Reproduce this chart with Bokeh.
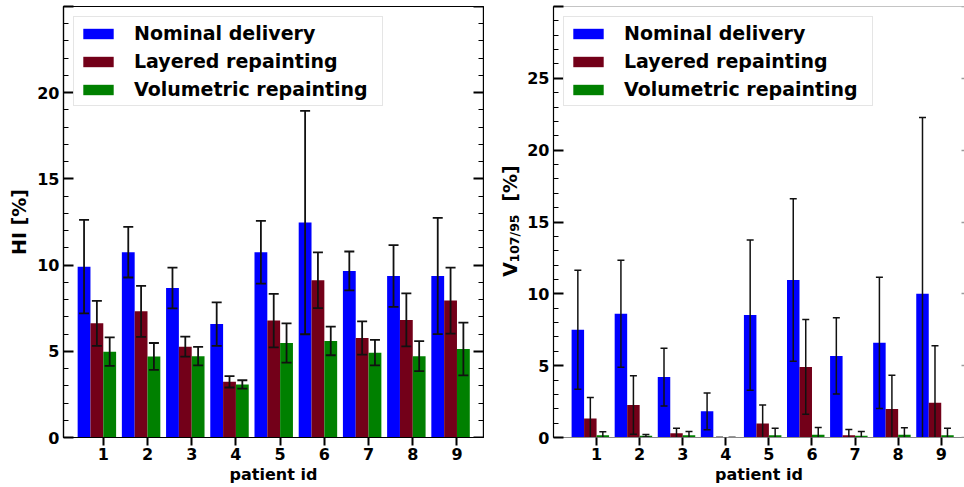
from math import pi
from bokeh.plotting import figure
from bokeh.layouts import row
from bokeh.models import (ColumnDataSource, Range1d, FixedTicker, LinearAxis,
                          Legend, LegendItem)
from bokeh.core.properties import value
from bokeh.embed import file_html
from bokeh.resources import INLINE

# ---------------- data ----------------
patients = [1, 2, 3, 4, 5, 6, 7, 8, 9]
series_names = ["Nominal delivery", "Layered repainting", "Volumetric repainting"]

hi_nominal = [9.91, 10.75, 8.67, 6.58, 10.75, 12.47, 9.66, 9.37, 9.37]
hi_nominal_err = [2.71, 1.47, 1.18, 1.26, 1.82, 6.48, 1.13, 1.79, 3.37]
hi_layered = [6.62, 7.32, 5.27, 3.23, 6.78, 9.12, 5.77, 6.82, 7.94]
hi_layered_err = [1.30, 1.48, 0.58, 0.33, 1.55, 1.62, 0.96, 1.54, 1.91]
hi_volumetric = [4.98, 4.70, 4.72, 3.08, 5.48, 5.60, 4.92, 4.72, 5.13]
hi_volumetric_err = [0.83, 0.78, 0.54, 0.24, 1.14, 0.83, 0.74, 0.87, 1.53]

v_nominal = [7.50, 8.61, 4.21, 1.82, 8.52, 10.96, 5.68, 6.59, 10.01]
v_nominal_err = [4.15, 3.72, 2.01, 1.28, 5.23, 5.66, 2.65, 4.57, 12.27]
v_layered = [1.33, 2.26, 0.30, 0.0, 0.98, 4.91, 0.16, 1.98, 2.42]
v_layered_err = [1.46, 2.03, 0.35, 0.0, 1.28, 3.30, 0.40, 2.35, 3.96]
v_volumetric = [0.16, 0.12, 0.16, 0.0, 0.16, 0.19, 0.12, 0.19, 0.16]
v_volumetric_err = [0.24, 0.09, 0.26, 0.0, 0.49, 0.51, 0.30, 0.49, 0.49]

v_label_parts = ["V", "107/95", "[%]"]

# ---------------- style ----------------
FONT = "DejaVu Sans"
COLORS = ["#0000ff", "#730019", "#008000"]
BAR_W = 0.29
OFFSETS = [-1.5, -0.5, 0.5]


def style_common(p, ymax, bottom_line_color):
    ya = p.yaxis[0]
    ya.ticker = FixedTicker(ticks=list(range(0, ymax + 1, 5)),
                            minor_ticks=list(range(0, ymax + 1)))
    ya.major_label_overrides = {ymax: ""}
    ya.major_tick_in = 10
    ya.major_tick_out = 0
    ya.minor_tick_in = 5
    ya.minor_tick_out = 0
    ya.major_tick_line_width = 2
    ya.minor_tick_line_width = 1
    ya.major_tick_line_color = "black"
    ya.minor_tick_line_color = "black"
    ya.axis_line_color = "black"
    ya.axis_line_width = 1.2
    ya.major_label_standoff = 4
    ya.major_label_text_font = FONT
    ya.major_label_text_font_style = "bold"
    ya.major_label_text_font_size = "16px"
    ya.major_label_text_color = "black"
    xa = p.xaxis[0]
    xa.ticker = FixedTicker(ticks=patients, minor_ticks=[])
    xa.major_tick_in = 0
    xa.major_tick_out = 8
    xa.major_tick_line_width = 2
    xa.major_tick_line_color = "black"
    xa.axis_line_color = bottom_line_color
    xa.axis_line_width = 1.2
    xa.major_label_standoff = 2
    xa.major_label_text_font = FONT
    xa.major_label_text_font_style = "bold"
    xa.major_label_text_font_size = "16px"
    xa.major_label_text_color = "black"
    xa.axis_label = "patient id"
    xa.axis_label_text_font = FONT
    xa.axis_label_text_font_style = "bold"
    xa.axis_label_text_font_size = "16px"
    xa.axis_label_text_color = "black"
    xa.axis_label_standoff = 2
    p.xgrid.visible = False
    p.ygrid.visible = False
    p.background_fill_color = "white"
    p.border_fill_color = "white"


def bare_axis(loc, ticks, minor, tick_in, minor_in, line_color, tick_color="black", tick_width=2):
    return LinearAxis(fixed_location=loc,
                      ticker=FixedTicker(ticks=ticks, minor_ticks=minor),
                      major_tick_in=tick_in, major_tick_out=0,
                      minor_tick_in=minor_in, minor_tick_out=0,
                      major_tick_line_width=tick_width, minor_tick_line_width=1,
                      major_tick_line_color=tick_color, minor_tick_line_color=tick_color,
                      major_label_overrides={t: "" for t in ticks},
                      major_label_text_color=None, major_label_standoff=0,
                      axis_line_color=line_color, axis_line_width=1.2)


def add_bars(p, values, errs, cap_size, err_width):
    renderers = []
    for k, vals in enumerate(values):
        xs = [x + OFFSETS[k] * BAR_W for x in patients]
        src = ColumnDataSource(dict(x=xs, top=vals))
        r = p.vbar(x="x", top="top", bottom=0, width=BAR_W, source=src,
                   fill_color=COLORS[k], line_color=None)
        renderers.append(r)
    for k, (vals, ers) in enumerate(zip(values, errs)):
        xs = [x + OFFSETS[k] * BAR_W for x in patients]
        src = ColumnDataSource(dict(
            x=xs,
            upper=[v + e for v, e in zip(vals, ers)],
            lower=[v - e for v, e in zip(vals, ers)],
        ))
        p.segment(x0="x", x1="x", y0="lower", y1="upper", source=src,
                  line_color="#111111", line_width=err_width)
        p.scatter(x="x", y="upper", marker="dash", size=cap_size, source=src,
                  line_color="#111111", line_width=err_width)
        p.scatter(x="x", y="lower", marker="dash", size=cap_size, source=src,
                  line_color="#111111", line_width=err_width)
    return renderers


def add_legend(p, renderers):
    items = [LegendItem(label=n, renderers=[r]) for n, r in zip(series_names, renderers)]
    lg = Legend(items=items, location="top_left")
    lg.label_text_font = FONT
    lg.label_text_font_style = "bold"
    lg.label_text_font_size = "19px"
    lg.label_text_color = "black"
    lg.glyph_width = 38
    lg.glyph_height = 13
    lg.label_standoff = 17
    lg.label_height = 21
    lg.label_width = 243
    lg.padding = 5
    lg.spacing = 6
    lg.margin = 10
    lg.border_line_color = "#cccccc"
    lg.border_line_width = 1
    lg.background_fill_color = "white"
    lg.background_fill_alpha = 0.8
    p.add_layout(lg)


# ---------------- left panel: HI ----------------
X1 = (0.1, 9.6)
p1 = figure(frame_width=420, frame_height=431,
            min_border_left=63, min_border_right=1,
            min_border_top=6, min_border_bottom=50,
            x_range=Range1d(*X1), y_range=Range1d(0, 25),
            output_backend="svg", toolbar_location=None, tools="")
p1.outline_line_color = "black"
p1.outline_line_width = 1.2
style_common(p1, 25, "black")
p1.yaxis[0].axis_label = "HI [%]"
p1.yaxis[0].axis_label_text_font = FONT
p1.yaxis[0].axis_label_text_font_style = "bold"
p1.yaxis[0].axis_label_text_font_size = "19px"
p1.yaxis[0].axis_label_text_color = "black"
p1.yaxis[0].axis_label_standoff = 4
p1.add_layout(bare_axis(X1[1], list(range(0, 26, 5)), list(range(0, 26)), 10, 5, "black"), "right")
bars1 = add_bars(p1, [hi_nominal, hi_layered, hi_volumetric],
                 [hi_nominal_err, hi_layered_err, hi_volumetric_err], 10, 1.8)
add_legend(p1, bars1)

# ---------------- right panel y label (own narrow canvas, no axes) ----------------
# its frame spans the same rows as the plot frames; y runs in page pixels measured up from the bottom
LAB_W = 40
lab = figure(frame_width=LAB_W, frame_height=431,
             min_border_left=0, min_border_right=0,
             min_border_top=6, min_border_bottom=50,
             x_range=Range1d(0, LAB_W), y_range=Range1d(50, 481),
             x_axis_location=None, y_axis_location=None,
             output_backend="svg", toolbar_location=None, tools="")
lab.grid.visible = False
lab.outline_line_color = None
lab.background_fill_color = "white"
lab.border_fill_color = "white"
lab.text(x=[25, 25], y=[218, 304], text=[v_label_parts[0], v_label_parts[2]],
         angle=pi / 2, text_font=value(FONT), text_font_style="bold",
         text_font_size="19px", text_color="black",
         text_align="center", text_baseline="middle")
lab.text(x=[29.5], y=[249], text=[v_label_parts[1]],
         angle=pi / 2, text_font=value(FONT), text_font_style="bold",
         text_font_size="12.5px", text_color="black",
         text_align="center", text_baseline="middle")

# ---------------- right panel: V107/95 ----------------
X2 = (0.0, 9.54)
p2 = figure(frame_width=411, frame_height=431,
            min_border_left=29, min_border_right=0,
            min_border_top=6, min_border_bottom=50,
            x_range=Range1d(*X2), y_range=Range1d(0, 30),
            output_backend="svg", toolbar_location=None, tools="")
p2.outline_line_color = None
style_common(p2, 30, "#8a8a8a")
p2.add_layout(bare_axis(30, [], [], 0, 0, "#8a8a8a"), "above")
p2.add_layout(bare_axis(X2[1], list(range(0, 31, 5)), [], 3, 0, None, "#9a9a9a", 1.5), "right")
bars2 = add_bars(p2, [v_nominal, v_layered, v_volumetric],
                 [v_nominal_err, v_layered_err, v_volumetric_err], 7, 1.5)
add_legend(p2, bars2)

layout = row(p1, lab, p2)
open("out.html", "w").write(file_html(layout, INLINE))
